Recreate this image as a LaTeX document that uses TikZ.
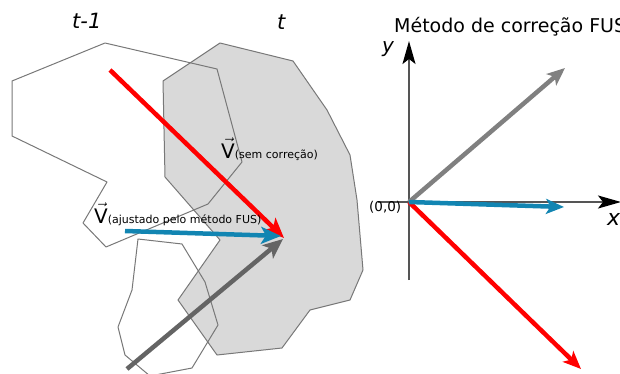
\documentclass[tikz,border=0pt]{standalone}
\usepackage{fontspec}
\setmainfont{DejaVu Sans}
\usetikzlibrary{arrows.meta}
\definecolor{vred}{RGB}{255,0,0}
\definecolor{vblue}{RGB}{18,133,178}
\definecolor{vgrayd}{RGB}{100,100,100}
\definecolor{vgrayl}{RGB}{128,128,128}
\definecolor{tfill}{RGB}{217,217,217}
\definecolor{outl}{RGB}{120,120,120}
\definecolor{axisc}{RGB}{85,85,85}
\tikzset{
  vecarrow/.style={line width=4.5pt,-{Stealth[length=20pt,width=17pt,inset=5pt]}},
  vecarrowr/.style={line width=4.5pt,-{Stealth[length=18pt,width=15pt,inset=4.5pt]}},
  axisarrow/.style={line width=2pt,draw=axisc,-{Stealth[length=23pt,width=13pt,inset=5pt,color=black]}},
  region/.style={draw=outl,line width=1pt,line join=round},
  lbl/.style={inner sep=0pt,anchor=base west},
}
\begin{document}
\begin{tikzpicture}[x=1pt,y=-1pt]
\useasboundingbox (0,0) rectangle (620,374);
\begin{scope}
\clip (0,0) rectangle (620,374);
% region t (filled)
\draw[region,fill=tfill] (163,81) -- (220,43) -- (293,61) -- (327,110) -- (350,155) -- (357,200) -- (363,270) -- (350,300) -- (310,310) -- (282,348) -- (217,355) -- (178,300) -- (220,240) -- (165,177) -- cycle;
% region t-1 (outlines)
\draw[region] (105,43) -- (217,69) -- (242,162) -- (208,204) -- (106,247) -- (83,223) -- (107,182) -- (12,136) -- (12,81) -- cycle;
\draw[region] (138,239) -- (182,244) -- (205,282) -- (218,325) -- (192,368) -- (150,376) -- (125,355) -- (118,327) -- (132,290) -- cycle;

% left vectors
\coordinate (redS) at (110,70);
\coordinate (blueS) at (125,231);
\coordinate (grayS) at (127,369);
\coordinate (tipR) at (284,238);
\coordinate (tipB) at (281,236);
\coordinate (tipG) at (283,239);
\draw[vecarrow,draw=vred,color=vred] (redS) -- (tipR);
\draw[vecarrow,draw=vgrayd,color=vgrayd] (grayS) -- (tipG);
\draw[vecarrow,draw=vblue,color=vblue] (blueS) -- (tipB);

% labels left
\node[lbl,font=\itshape\fontsize{21}{24}\selectfont] (tm1) at (72,29) {t-1};
\node[lbl,font=\itshape\fontsize{21}{24}\selectfont] (tt) at (277,30) {t};
\node[lbl] (vsem) at (221,158.5) {\fontsize{20}{24}\selectfont$\vec{\mbox{V}}$\fontsize{11}{13}\selectfont(sem correção)};
\node[lbl] (vaj) at (94,223) {\fontsize{20}{24}\selectfont$\vec{\mbox{V}}$\fontsize{11}{13}\selectfont(ajustado pelo método FUS)};

% right panel
\node[lbl,font=\fontsize{19}{23}\selectfont] (title) at (394,33) {Método de correção FUS};
\coordinate (O) at (409,202);
\coordinate (xS) at (378,202);
\coordinate (xE) at (621,202);
\coordinate (yS) at (409,280);
\coordinate (yE) at (409,41);
\draw[axisarrow] (xS) -- (xE);
\draw[axisarrow] (yS) -- (yE);
\node[lbl,font=\itshape\fontsize{20}{24}\selectfont] (ylab) at (382,53) {y};
\node[lbl,font=\itshape\fontsize{22}{26}\selectfont] (xlab) at (607,225) {x};
\node[lbl,font=\fontsize{13.5}{16}\selectfont] (orig) at (369,211.5) {(0,0)};
\coordinate (gR) at (565,68);
\coordinate (bR) at (564,207);
\coordinate (rR) at (581,369);
\draw[vecarrowr,draw=vgrayl,color=vgrayl] (O) -- (gR);
\draw[vecarrowr,draw=vred,color=vred] (O) -- (rR);
\draw[vecarrowr,draw=vblue,color=vblue] (O) -- (bR);
\end{scope}
\end{tikzpicture}
\end{document}
